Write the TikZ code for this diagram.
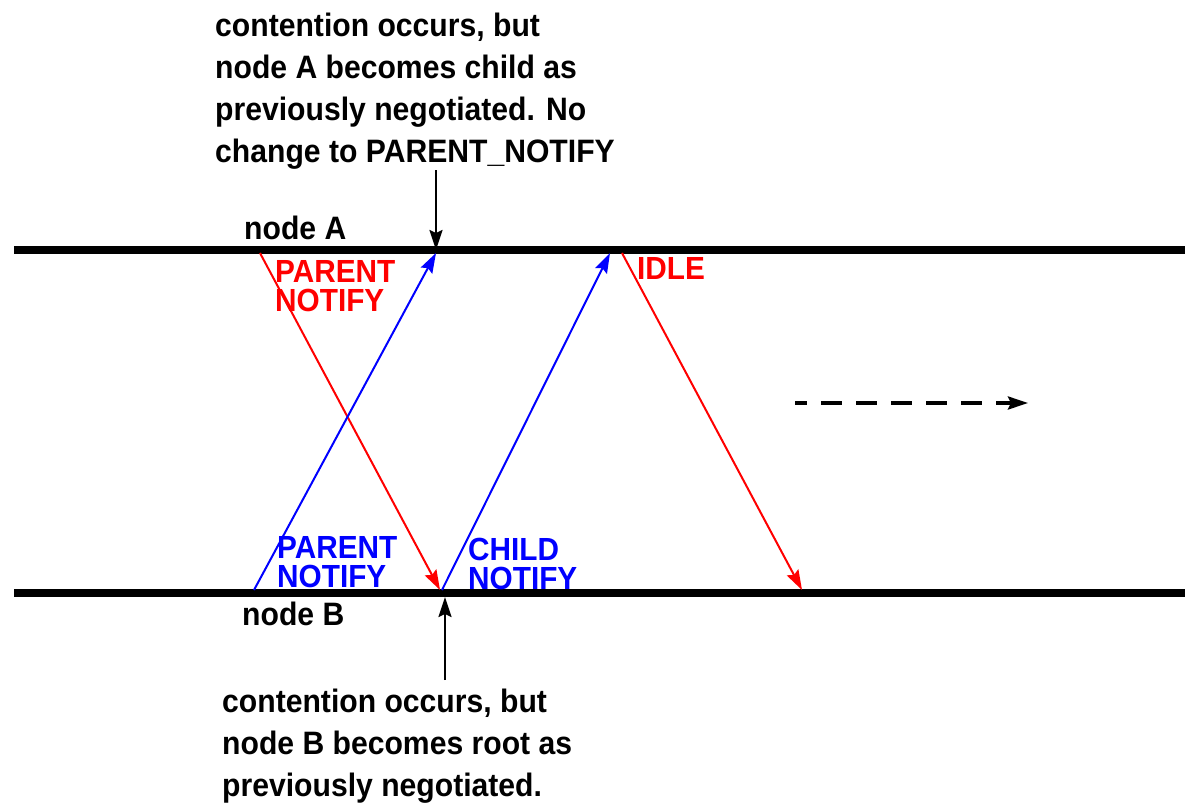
\documentclass[tikz,border=0pt]{standalone}
\usepackage{fontspec}
\newfontfamily\hv[FakeStretch=0.93]{Liberation Sans}
\usetikzlibrary{arrows.meta}
\tikzset{
  tip/.style={-{Stealth[length=20pt,width=13pt,inset=3pt]}},
  bus/.style={line width=8pt},
  msgred/.style={draw={rgb,255:red,255;green,0;blue,0}, line width=2pt, tip},
  msgblue/.style={draw={rgb,255:red,0;green,0;blue,255}, line width=2pt, tip},
  pointer/.style={line width=2pt, tip},
  lbl/.style={anchor=base west, inner sep=0pt, font=\hv\bfseries\fontsize{32.4}{42}\selectfont, align=left},
  slbl/.style={anchor=base west, inner sep=0pt, font=\hv\bfseries\fontsize{32}{29}\selectfont, align=left},
}
\begin{document}
\begin{tikzpicture}[x=1pt,y=-1pt]
\useasboundingbox (0,0) rectangle (1185,808);
% buses
\coordinate (A1) at (14,250); \coordinate (A2) at (1185,250);
\coordinate (B1) at (14,593); \coordinate (B2) at (1185,593);
\draw[bus] (A1) -- (A2);
\draw[bus] (B1) -- (B2);
% message end points
\coordinate (r1s) at (260,253); \coordinate (r1e) at (440,590);
\coordinate (b1s) at (254,590); \coordinate (b1e) at (436,253);
\coordinate (b2s) at (442,590); \coordinate (b2e) at (610,253);
\coordinate (r2s) at (622,253); \coordinate (r2e) at (802,590);
\draw[msgred] (r1s) -- (r1e);
\draw[msgblue] (b1s) -- (b1e);
\draw[msgblue] (b2s) -- (b2e);
\draw[msgred] (r2s) -- (r2e);
% labels (base = baseline of the last line)
\node[lbl] (nA) at (244,239) {node A};
\node[lbl] (nB) at (242,625) {node B};
\node[slbl, text={rgb,255:red,255;green,0;blue,0}] (pn1) at (275,311) {PARENT\\NOTIFY};
\node[slbl, text={rgb,255:red,255;green,0;blue,0}] (idle) at (637,279) {IDLE};
\node[slbl, text={rgb,255:red,0;green,0;blue,255}] (pn2) at (277,587) {PARENT\\NOTIFY};
\node[slbl, text={rgb,255:red,0;green,0;blue,255}] (cn) at (468,589) {CHILD\\NOTIFY};
% annotations
\node[lbl] (topnote) at (215,162) {contention occurs, but\\node A becomes child as\\previously negotiated. No\\change to PARENT\_NOTIFY};
\node[lbl] (botnote) at (222,796) {contention occurs, but\\node B becomes root as\\previously negotiated.};
\coordinate (t1) at (436,170); \coordinate (t2) at (436,250);
\coordinate (u1) at (445,680); \coordinate (u2) at (445,597);
\draw[pointer] (t1) -- (t2);
\draw[pointer] (u1) -- (u2);
% time arrow
\coordinate (d1) at (795,403); \coordinate (d2) at (1028,403);
\draw[line width=3.3pt, dash pattern=on 21pt off 14pt, dash phase=9pt, tip] (d1) -- (d2);
\end{tikzpicture}
\end{document}
